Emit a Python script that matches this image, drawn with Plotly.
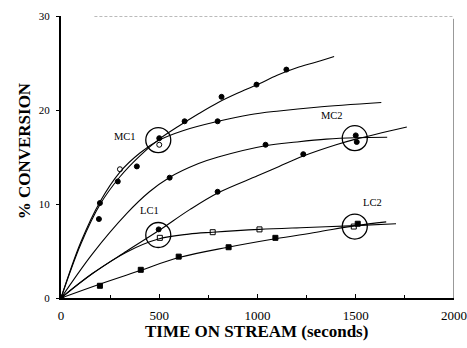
import plotly.graph_objects as go

# Fitted conversion curves (time in s, % conversion)
time_a = [0, 100, 200, 300, 400, 500, 600, 700, 800, 900, 1000, 1100, 1200, 1300, 1390]
conv_a = [0, 5.7, 10.0, 12.9, 15.1, 16.9, 18.3, 19.6, 20.8, 21.8, 22.7, 23.7, 24.5, 25.1, 25.7]

time_b = [0, 100, 200, 300, 400, 500, 620, 800, 960, 1110, 1300, 1630]
conv_b = [0, 5.9, 10.3, 13.4, 15.4, 16.8, 17.8, 18.8, 19.5, 19.9, 20.3, 20.8]

time_c = [0, 160, 335, 450, 550, 700, 800, 1040, 1200, 1350, 1500, 1660]
conv_c = [0, 4.7, 9.0, 11.3, 12.8, 14.3, 15.0, 16.2, 16.6, 16.9, 17.05, 17.1]

time_d = [0, 160, 335, 500, 655, 800, 1000, 1110, 1233, 1400, 1500, 1760]
conv_d = [0, 2.6, 5.0, 7.2, 9.4, 11.2, 13.0, 14.0, 15.1, 16.3, 16.9, 18.2]

time_e = [0, 160, 335, 500, 650, 772, 1010, 1250, 1500, 1705]
conv_e = [0, 2.6, 4.9, 6.3, 6.8, 7.0, 7.3, 7.5, 7.7, 7.9]

time_f = [0, 200, 400, 600, 850, 1090, 1300, 1500, 1655]
conv_f = [0, 1.5, 2.9, 4.3, 5.4, 6.3, 7.0, 7.7, 8.1]

# Measured points
pts_a_t = [198, 289, 386, 500, 629, 817, 995, 1147]
pts_a_c = [10.1, 12.4, 14.0, 17.0, 18.8, 21.4, 22.7, 24.3]

pts_b_open_t = [300, 500]
pts_b_open_c = [13.7, 16.3]
pts_b_fill_t = [193, 797]
pts_b_fill_c = [8.4, 18.8]

pts_c_t = [553, 1041, 1500]
pts_c_c = [12.8, 16.3, 17.3]

pts_d_t = [497, 797, 1233, 1505]
pts_d_c = [7.3, 11.3, 15.3, 16.6]

pts_e_t = [503, 772, 1010, 1490]
pts_e_c = [6.4, 7.0, 7.3, 7.6]

pts_f_t = [198, 406, 599, 853, 1091, 1510]
pts_f_c = [1.3, 3.0, 4.4, 5.4, 6.4, 7.9]

# Equal-conversion markers and their labels
ring_t = [495, 1495, 495, 1495]
ring_c = [16.8, 17.0, 6.7, 7.6]
ring_labels = ["MC1", "MC2", "LC1", "LC2"]
label_t = [325, 1381, 452, 1584]
label_c = [17.2, 19.4, 9.3, 10.2]

x_ticks = [0, 500, 1000, 1500, 2000]
y_ticks = [0, 10, 20, 30]

SERIF = "Liberation Serif, Times New Roman, serif"

fig = go.Figure()

for tx, cy in [(time_a, conv_a), (time_b, conv_b), (time_c, conv_c),
               (time_d, conv_d), (time_e, conv_e), (time_f, conv_f)]:
    fig.add_trace(go.Scatter(x=tx, y=cy, mode="lines",
                             line=dict(color="black", width=1.1, shape="spline", smoothing=1.0),
                             hoverinfo="skip"))

def dots(tx, cy, symbol, size):
    fig.add_trace(go.Scatter(x=tx, y=cy, mode="markers",
                             marker=dict(symbol=symbol, size=size, color="black",
                                         line=dict(color="black", width=1))))

dots(pts_a_t, pts_a_c, "circle", 5)
dots(pts_b_fill_t, pts_b_fill_c, "circle", 5)
dots(pts_b_open_t, pts_b_open_c, "circle-open", 5)
dots(pts_c_t, pts_c_c, "circle", 5)
dots(pts_d_t, pts_d_c, "circle", 5)
dots(pts_e_t, pts_e_c, "square-open", 5)
dots(pts_f_t, pts_f_c, "square", 5)
dots([0], [0], "circle", 6)

fig.add_trace(go.Scatter(x=ring_t, y=ring_c, mode="markers",
                         marker=dict(symbol="circle-open", size=25, color="black",
                                     line=dict(color="black", width=1.3))))

for lt, lc, txt in zip(label_t, label_c, ring_labels):
    fig.add_annotation(x=lt, y=lc, text=txt, showarrow=False,
                       font=dict(family=SERIF, size=10.5, color="black"))

# Frame: broken top edge and thin right edge
fig.add_shape(type="line", x0=170, x1=2000, y0=30, y1=30, xref="x", yref="y",
              line=dict(color="#777777", width=1, dash="3px,2px"))
fig.add_shape(type="line", x0=2000, x1=2000, y0=0, y1=29.7, xref="x", yref="y",
              line=dict(color="#333333", width=1))

fig.add_annotation(x=0.497, y=0, xref="paper", yref="paper", yanchor="middle",
                   yshift=-33, text="<b>TIME ON STREAM (seconds)</b>", showarrow=False,
                   font=dict(family=SERIF, size=17, color="black"))
fig.add_annotation(x=0, y=0.52, xref="paper", yref="paper", xanchor="center",
                   xshift=-37, textangle=-90, text="<b>% CONVERSION</b>", showarrow=False,
                   font=dict(family=SERIF, size=17, color="black"))

fig.update_layout(
    width=467, height=348,
    margin=dict(l=61, r=13, t=16, b=50),
    paper_bgcolor="white", plot_bgcolor="white",
    showlegend=False,
    xaxis=dict(range=[0, 2000], tickvals=x_ticks, ticktext=[str(v) for v in x_ticks],
               automargin=False, ticklabeloverflow="allow",
               showgrid=False, zeroline=False, showline=True, linecolor="black", linewidth=1.5,
               ticks="inside", ticklen=4, tickcolor="black", ticklabelstandoff=5,
               minor=dict(dtick=250, ticks="inside", ticklen=3, tickcolor="black"),
               tickfont=dict(family=SERIF, size=13, color="black")),
    yaxis=dict(range=[0, 30], tickvals=y_ticks, ticktext=[str(v) for v in y_ticks],
               automargin=False,
               showgrid=False, zeroline=False, showline=True, linecolor="black", linewidth=2,
               ticks="outside", ticklen=3, tickcolor="black", ticklabelstandoff=4,
               tickfont=dict(family=SERIF, size=11, color="black")),
)

fig.write_html("out.html")
